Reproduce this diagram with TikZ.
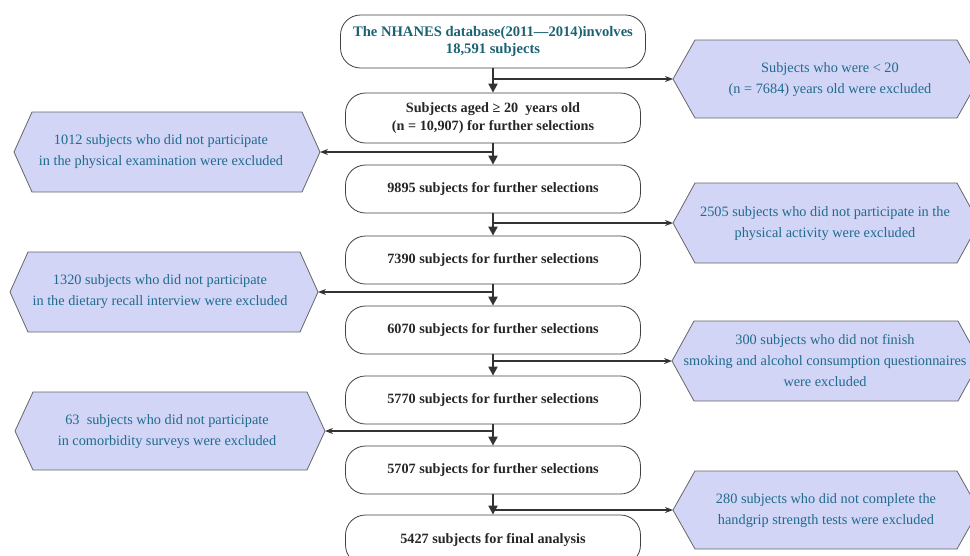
\documentclass[tikz,border=0pt]{standalone}
\usepackage{fontspec}
\setmainfont{Liberation Serif}
\usetikzlibrary{arrows.meta}
\definecolor{hexfill}{HTML}{D2D5F6}
\definecolor{hextext}{HTML}{1F6B8E}
\definecolor{titletext}{HTML}{1B6374}
\definecolor{linegray}{HTML}{333333}
\tikzset{
 mainbox/.style={draw=black!75, line width=0.8pt, rounded corners=20pt, minimum width=295pt, minimum height=48pt, align=center, font=\fontsize{14.2}{17.5}\selectfont\bfseries, text=black!85, inner sep=0pt},
 hexbox/.style={draw=black!60, fill=hexfill, line width=0.8pt},
 hextxt/.style={align=center, text=hextext, font=\fontsize{14.3}{21}\selectfont, inner sep=0pt},
 flow/.style={draw=linegray, line width=2pt, -{Triangle[length=9pt,width=9pt]}},
 branch/.style={draw=linegray, line width=1.2pt, -{Stealth[length=8pt,width=6pt]}},
}
\newcommand{\hexshape}[6]{%
 \draw[hexbox] (#2-#4,#3) -- (#2-#4+#6,#3-#5) -- (#2+#4-#6,#3-#5) -- (#2+#4,#3) -- (#2+#4-#6,#3+#5) -- (#2-#4+#6,#3+#5) -- cycle;
 \coordinate (#1W) at (#2-#4,#3);
 \coordinate (#1E) at (#2+#4,#3);}
\begin{document}
\begin{tikzpicture}[x=1pt,y=-1pt]
\useasboundingbox (0,0) rectangle (970,555);
\clip (0,0) rectangle (970,555);
% main boxes
\node[mainbox, minimum width=305pt, minimum height=53pt, text=titletext, font=\fontsize{14.6}{17}\selectfont\bfseries] (b1) at (493,41.5) {The NHANES database(2011---2014)involves\\18,591 subjects};
\node[mainbox, minimum height=50pt] (b2) at (493,118) {Subjects aged ≥ 20~ years old\\(n = 10,907) for further selections};
\node[mainbox] (b3) at (493,189) {9895 subjects for further selections};
\node[mainbox] (b4) at (493,260) {7390 subjects for further selections};
\node[mainbox] (b5) at (493,330) {6070 subjects for further selections};
\node[mainbox] (b6) at (493,400) {5770 subjects for further selections};
\node[mainbox] (b7) at (493,470) {5707 subjects for further selections};
\node[mainbox, minimum height=50pt] (b8) at (493,540) {5427 subjects for final analysis};
% hexagons right
\hexshape{r1}{826}{79}{153}{39}{22}
\node[hextxt] (t1) at (830,80) {Subjects who were < 20\\(n = 7684) years old were excluded};
\hexshape{r2}{826}{223}{153}{40}{22}
\node[hextxt] (t3) at (825,224) {2505 subjects who did not participate in the\\physical activity were excluded};
\hexshape{r3}{826}{361}{154}{40}{22}
\node[hextxt] (t5) at (825,361) {300 subjects who did not finish\\smoking and alcohol consumption questionnaires\\were excluded};
\hexshape{r4}{826}{510}{153}{39}{22}
\node[hextxt] (t7) at (826,511) {280 subjects who did not complete the\\handgrip strength tests were excluded};
% hexagons left
\hexshape{l1}{167}{152}{153}{40}{18}
\node[hextxt] (t2) at (161,152) {1012 subjects who did not participate\\in the physical examination were excluded};
\hexshape{l2}{164}{292}{154}{40}{18}
\node[hextxt] (t4) at (160,292) {1320 subjects who did not participate\\in the dietary recall interview were excluded};
\hexshape{l3}{170}{431}{155}{39}{18}
\node[hextxt] (t6) at (167,432) {63~ subjects who did not participate\\in comorbidity surveys were excluded};
% flow
\draw[flow] (b1.south) -- (b2.north);
\draw[flow] (b2.south) -- (b3.north);
\draw[flow] (b3.south) -- (b4.north);
\draw[flow] (b4.south) -- (b5.north);
\draw[flow] (b5.south) -- (b6.north);
\draw[flow] (b6.south) -- (b7.north);
\draw[flow] (b7.south) -- (b8.north);
% branches
\draw[branch] (b1.south |- r1W) -- (r1W);
\draw[branch] (b2.south |- l1E) -- (l1E);
\draw[branch] (b3.south |- r2W) -- (r2W);
\draw[branch] (b4.south |- l2E) -- (l2E);
\draw[branch] (b5.south |- r3W) -- (r3W);
\draw[branch] (b6.south |- l3E) -- (l3E);
\draw[branch] (b7.south |- r4W) -- (r4W);
\end{tikzpicture}
\end{document}
